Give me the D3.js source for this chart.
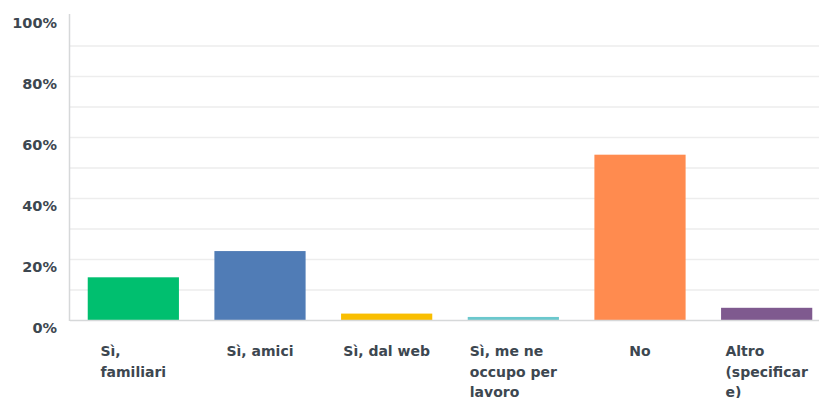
<!DOCTYPE html>
<html>
<head>
<meta charset="utf-8">
<script src="https://cdn.jsdelivr.net/npm/d3@7"></script>
<style>
body { margin: 0; background: #fff; }
text { font-family: "DejaVu Sans", sans-serif; font-weight: bold; fill: #3d4750; }
</style>
</head>
<body>
<svg width="819" height="398"></svg>
<script>
var categories = ["Sì, familiari", "Sì, amici", "Sì, dal web", "Sì, me ne occupo per lavoro", "No", "Altro (specificare)"];
var values = [14.0, 22.6, 2.1, 1.0, 54.2, 4.0];
var colors = ["#00bf6f", "#507cb6", "#f9be00", "#6bc8cd", "#ff8b4f", "#7f5a8f"];
var tickValues = [0, 20, 40, 60, 80, 100];
var gridValues = [10, 20, 30, 40, 50, 60, 70, 80, 90];

var svg = d3.select("svg"),
    width = +svg.attr("width"),
    plotLeft = 70, plotTop = 15, plotBottom = 320;

var x = d3.scaleBand().domain(categories).range([plotLeft, 830]).paddingInner(0.28).paddingOuter(0.14);
var y = d3.scaleLinear().domain([0, 100]).range([plotBottom, plotTop]);

// gridlines
svg.append("g").selectAll("line").data(gridValues).enter().append("line")
  .attr("x1", plotLeft).attr("x2", width)
  .attr("y1", function(d) { return y(d) + 0.5; })
  .attr("y2", function(d) { return y(d) + 0.5; })
  .attr("stroke", "#ededed").attr("stroke-width", 1.5);

// y tick labels
svg.append("g").selectAll("text").data(tickValues).enter().append("text")
  .attr("x", 57).attr("y", function(d) { return y(d) + 8; })
  .attr("dy", "0.35em").attr("text-anchor", "end")
  .style("font-size", "14.5px")
  .text(function(d) { return d + "%"; });

// bars
svg.append("g").selectAll("rect").data(values).enter().append("rect")
  .attr("x", function(d, i) { return x(categories[i]); })
  .attr("width", x.bandwidth())
  .attr("y", function(d) { return y(d); })
  .attr("height", function(d) { return plotBottom - y(d); })
  .attr("fill", function(d, i) { return colors[i]; });

// axis lines
svg.append("line").attr("x1", plotLeft - 0.5).attr("x2", plotLeft - 0.5).attr("y1", 14).attr("y2", plotBottom + 1)
  .attr("stroke", "#d6d8d9").attr("stroke-width", 1.5);
svg.append("line").attr("x1", plotLeft).attr("x2", width).attr("y1", plotBottom + 0.5).attr("y2", plotBottom + 0.5)
  .attr("stroke", "#d6d8d9").attr("stroke-width", 1.5);

// category labels, wrapped to about the bar width
var maxW = 89;
var labels = svg.append("g").selectAll("text").data(categories).enter().append("text")
  .style("font-size", "14px");

labels.each(function(d) {
  var t = d3.select(this);
  var probe = t.append("tspan");
  function w(s) { probe.text(s); return probe.node().getComputedTextLength(); }
  var words = d.split(" "), lines = [], cur = "";
  words.forEach(function(word) {
    var test = cur ? cur + " " + word : word;
    if (w(test) <= maxW) { cur = test; return; }
    if (cur) lines.push(cur);
    cur = word;
    while (w(cur) > maxW) {
      var k = cur.length;
      while (k > 1 && w(cur.slice(0, k)) > maxW) k--;
      lines.push(cur.slice(0, k));
      cur = cur.slice(k);
    }
  });
  if (cur) lines.push(cur);
  var blockW = d3.max(lines, w);
  probe.remove();
  var cx = x(d) + x.bandwidth() / 2;
  lines.forEach(function(line, i) {
    t.append("tspan").attr("x", cx - blockW / 2).attr("y", 356 + i * 20.5).text(line);
  });
});
</script>
</body>
</html>
